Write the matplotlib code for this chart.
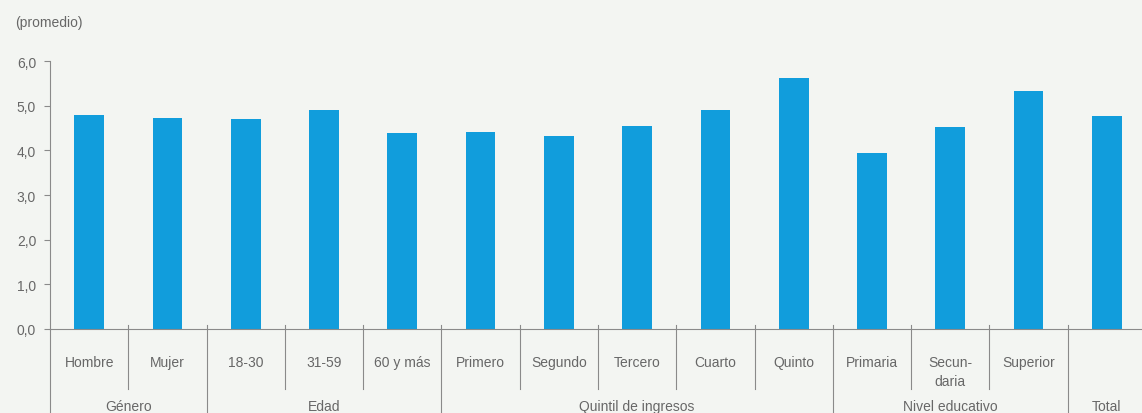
import matplotlib as mpl
mpl.use('Agg')
import matplotlib.pyplot as plt
import numpy as np

categories = ['Hombre', 'Mujer', '18-30', '31-59', '60 y más', 'Primero', 'Segundo',
              'Tercero', 'Cuarto', 'Quinto', 'Primaria', 'Secun-\ndaria', 'Superior', '']
values = [4.8, 4.73, 4.7, 4.9, 4.38, 4.41, 4.32, 4.55, 4.9, 5.62, 3.95, 4.53, 5.33, 4.78]
groups = ['Género', 'Edad', 'Quintil de ingresos', 'Nivel educativo', 'Total']
group_sizes = [2, 3, 5, 3, 1]
yticks = [0, 1, 2, 3, 4, 5, 6]

bg = '#f3f5f2'
bar_color = '#119ddc'
text_color = '#676767'
line_color = '#8a8a8a'
fs = 10

plt.rcParams['font.family'] = ['Liberation Sans', 'DejaVu Sans']

fig = plt.figure(figsize=(11.42, 4.14), dpi=100, facecolor=bg)
ax = fig.add_axes([0.0438, 0.203, 0.9562, 0.647], facecolor=bg)

x = np.arange(len(values))
ax.bar(x, values, width=0.38, color=bar_color, zorder=2)

ax.set_xlim(-0.5, len(values) - 0.55)
ax.set_ylim(0, 6)
ax.set_yticks(yticks)
ax.set_yticklabels(['%d,0' % v for v in yticks], color=text_color, fontsize=fs)
ax.tick_params(axis='y', length=4, color=line_color, width=0.8, pad=6)
ax.set_xticks([])

for s in ['top', 'right']:
    ax.spines[s].set_visible(False)
for s in ['left', 'bottom']:
    ax.spines[s].set_color(line_color)
    ax.spines[s].set_linewidth(0.8)

trans = ax.get_xaxis_transform()

# category labels
for xi, lab in zip(x, categories):
    ax.text(xi, -0.123 if '\n' not in lab else -0.158, lab, transform=trans,
            ha='center', va='center', fontsize=fs, color=text_color, linespacing=1.45)

# dividers: short between categories, long between groups
group_edges = np.cumsum(group_sizes)[:-1] - 0.5
ax.plot([-0.5, -0.5], [0, -0.32], transform=trans, color=line_color, lw=0.8, clip_on=False)
for i in range(len(values) - 1):
    b = i + 0.5
    if np.any(np.isclose(group_edges, b)):
        ax.plot([b, b], [0.015, -0.32], transform=trans, color=line_color, lw=0.8, clip_on=False)
    else:
        ax.plot([b, b], [0.015, -0.224], transform=trans, color=line_color, lw=0.8, clip_on=False)

# group labels
start = 0
for g, n in zip(groups, group_sizes):
    c = start + (n - 1) / 2
    ax.text(c, -0.287, g, transform=trans, ha='center', va='center',
            fontsize=fs, color=text_color)
    start += n

fig.text(0.013, 0.945, '(promedio)', fontsize=fs, color=text_color, ha='left', va='center')

fig.savefig('out.png', dpi=100, facecolor=bg)
